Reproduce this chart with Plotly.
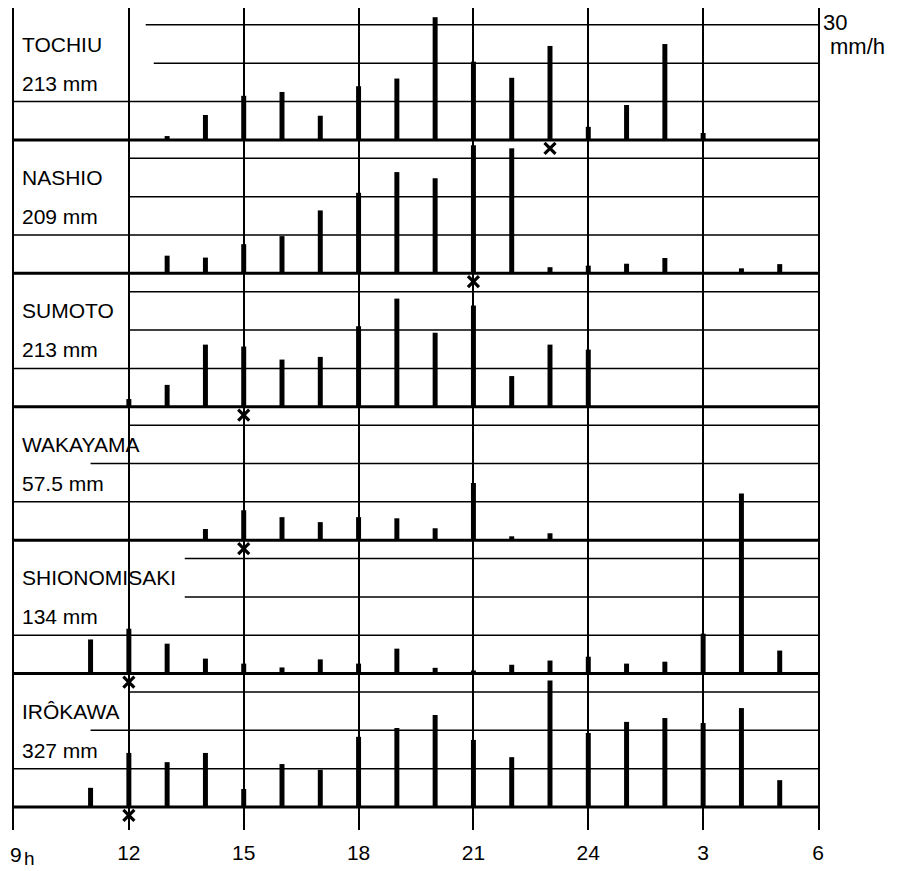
import plotly.graph_objects as go

# ---------------- data ----------------
hours = list(range(11, 30))  # 11h .. 29h (= 5h next day)

stations = ["TOCHIU", "NASHIO", "SUMOTO", "WAKAYAMA", "SHIONOMISAKI", "IRÔKAWA"]
totals = ["213 mm", "209 mm", "213 mm", "57.5 mm", "134 mm", "327 mm"]

tochiu = [0, 0, 1.0, 6.5, 11.5, 12.5, 6.3, 14.0, 16.0, 32.0, 20.4, 16.2, 24.5, 3.4, 9.1, 25.0, 1.8, 0, 0]
nashio = [0, 0, 4.6, 4.1, 7.6, 9.7, 16.4, 21.0, 26.4, 24.8, 33.4, 32.6, 1.6, 2.0, 2.5, 4.0, 0, 1.3, 2.4]
sumoto = [0, 2.0, 5.7, 16.2, 15.7, 12.3, 13.0, 21.0, 28.2, 19.3, 26.4, 8.0, 16.2, 14.9, 0, 0, 0, 0, 0]
wakayama = [0, 0, 0, 2.9, 7.8, 6.0, 4.7, 6.0, 5.7, 3.1, 14.9, 1.0, 1.8, 0, 0, 0, 0, 0, 0]
shionomisaki = [8.9, 11.7, 7.8, 3.9, 2.6, 1.6, 3.7, 2.6, 6.5, 1.5, 0.8, 2.3, 3.4, 4.4, 2.6, 3.1, 10.4, 47.0, 6.0]
irokawa = [5.0, 14.1, 11.7, 14.1, 4.7, 11.2, 9.7, 18.3, 20.6, 24.0, 17.5, 13.0, 33.0, 19.3, 22.2, 23.2, 21.9, 25.8, 7.0]

series = [tochiu, nashio, sumoto, wakayama, shionomisaki, irokawa]

# hour of marked "x" under each panel
marked_hours = [23, 21, 15, 15, 12, 12]

tick_vals = [12, 15, 18, 21, 24, 27, 30]
tick_text = ["12", "15", "18", "21", "24", "3", "6"]
first_tick_text = "9"
first_tick_unit = "h"

grid_levels = [10, 20, 30]  # mm/h

# ---------------- layout helpers ----------------
STEP = 34.8  # vertical offset between stacked panels (mm/h units)
offsets = [STEP * (len(stations) - 1 - i) for i in range(len(stations))]
# start (hours) of the 30 and 20 mm/h grid lines in each panel (label boxes)
grid_start = [(12.44, 12.65), (12, 12), (12, 12), (12, 11), (13.46, 13.46), (12, 11)]

FONT = "Liberation Sans"
fig = go.Figure()

for name, vals, off in zip(stations, series, offsets):
    xs = [h for h, v in zip(hours, vals) if v > 0]
    ys = [v for v in vals if v > 0]
    fig.add_trace(go.Bar(x=xs, y=ys, base=off, width=0.13,
                         marker=dict(color="black", line=dict(width=0)),
                         name=name, showlegend=False))

fig.add_trace(go.Scatter(
    x=marked_hours, y=[o - 2.2 for o in offsets], mode="markers",
    marker=dict(symbol="x-thin", size=11, line=dict(width=3.2, color="black"), color="black"),
    showlegend=False))

shapes = []
for i, off in enumerate(offsets):
    # baseline
    shapes.append(dict(type="line", xref="x", yref="y", x0=9, x1=30, y0=off, y1=off,
                       line=dict(color="black", width=3)))
    starts = {10: 9, 20: grid_start[i][1], 30: grid_start[i][0]}
    for lvl in grid_levels:
        shapes.append(dict(type="line", xref="x", yref="y", x0=starts[lvl], x1=30,
                           y0=off + lvl, y1=off + lvl, line=dict(color="black", width=1.5)))

annotations = []
for name, tot, off in zip(stations, totals, offsets):
    annotations.append(dict(x=9, y=off + 25, xref="x", yref="y", text=name, showarrow=False,
                            xanchor="left", yanchor="middle", xshift=6,
                            font=dict(family=FONT, size=21, color="black")))
    annotations.append(dict(x=9, y=off + 14.8, xref="x", yref="y", text=tot, showarrow=False,
                            xanchor="left", yanchor="middle", xshift=6,
                            font=dict(family=FONT, size=21, color="black")))

annotations.append(dict(x=30, y=offsets[0] + 30.5, xref="x", yref="y", text="30", showarrow=False,
                        xanchor="left", yanchor="middle", xshift=3,
                        font=dict(family=FONT, size=22, color="black")))
annotations.append(dict(x=30, y=offsets[0] + 24.3, xref="x", yref="y", text="mm/h", showarrow=False,
                        xanchor="left", yanchor="middle", xshift=10,
                        font=dict(family=FONT, size=22, color="black")))
# first tick label ("9 h") at the left edge
annotations.append(dict(x=9, y=0, xref="x", yref="paper", text=first_tick_text, showarrow=False,
                        xanchor="left", yanchor="top", xshift=-6, yshift=-11,
                        font=dict(family=FONT, size=21, color="black")))
annotations.append(dict(x=9, y=0, xref="x", yref="paper", text=first_tick_unit, showarrow=False,
                        xanchor="left", yanchor="top", xshift=8, yshift=-16,
                        font=dict(family=FONT, size=19, color="black")))

fig.update_layout(
    width=898, height=863,
    margin=dict(l=6, r=88, t=0, b=41),
    paper_bgcolor="white", plot_bgcolor="white",
    barmode="overlay",
    shapes=shapes, annotations=annotations,
    showlegend=False,
    xaxis=dict(range=[9, 30], tickvals=tick_vals, ticktext=tick_text,
               showgrid=True, gridcolor="black", gridwidth=1.5,
               zeroline=False, showline=False, ticks="", ticklabelstandoff=8,
               tickfont=dict(family=FONT, size=21, color="black")),
    yaxis=dict(range=[-6.0, 208.4], showgrid=False, zeroline=False,
               showticklabels=False, ticks="",
               showline=True, mirror=True, linecolor="black", linewidth=1.5),
)

fig.write_html("out.html")
